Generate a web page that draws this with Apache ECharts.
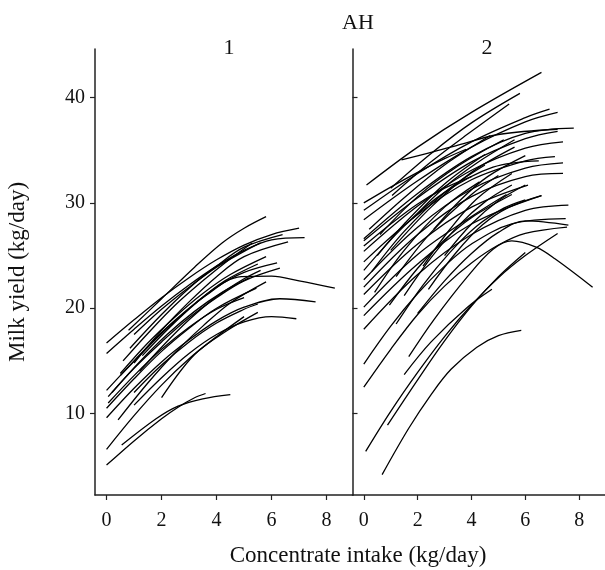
<!DOCTYPE html>
<html>
<head>
<meta charset="utf-8">
<script src="https://cdn.jsdelivr.net/npm/echarts@6/dist/echarts.min.js"></script>
<style>
html,body{margin:0;padding:0;background:#fff;}
#chart{width:605px;height:570px;}
</style>
</head>
<body>
<div id="chart"></div>
<script>
// Tick values
const xTicks = [0, 2, 4, 6, 8];
const yTicks = [10, 20, 30, 40];
const panelLabels = ['1', '2'];
const groupTitle = 'AH';

// Panel 1 curves: [concentrate intake, milk yield]
const panel1Curves = [
  [[0.8,17.9],[2,20.9],[3.2,23.9],[4.2,26.2],[5.0,27.6],[5.8,28.7]],
  [[0,16.7],[1,18.9],[2,21.0],[3,22.9],[4,24.6],[5,26.0],[6,27.0],[7.0,27.6]],
  [[0,15.7],[1,18.0],[2,20.2],[3,22.2],[4,24.0],[5,25.5],[6,26.5],[7.2,26.7]],
  [[0.85,16.2],[2,19.4],[3,21.9],[4,24.0],[5,25.8],[6.4,27.0]],
  [[1.0,14.8],[2,17.9],[3,20.6],[4,23.0],[5,24.9],[6.6,26.3]],
  [[0.6,15.0],[1.5,17.6],[2.5,20.3],[3.5,22.6],[4.5,24.7],[5.3,26.2]],
  [[0,12.2],[1,15.0],[2,17.7],[3,20.0],[4,22.0],[5,23.4],[6.2,24.3]],
  [[0.06,11.6],[1,14.3],[2,16.8],[3,19.1],[4,21.0],[5,22.6],[6.3,23.8]],
  [[0.5,13.6],[1.5,16.3],[2.5,18.8],[3.5,21.0],[4.9,23.0],[6.0,23.05],[7.0,22.6],[8.3,21.9]],
  [[0.42,9.4],[1.5,12.9],[2.5,15.8],[3.5,18.3],[4.5,20.5],[5.8,22.5]],
  [[0,10.5],[1,13.3],[2,15.9],[3,18.1],[4,20.0],[5.45,21.9]],
  [[0,9.6],[1,12.4],[2,14.9],[3,17.0],[4,18.8],[5,20.1],[6.3,20.9],[7.6,20.6]],
  [[2.0,11.5],[3.2,15.6],[4.4,17.9],[5.5,19.6]],
  [[1.0,10.8],[2,13.4],[3,15.7],[4,17.5],[5,18.7],[6.0,19.2],[6.9,19.0]],
  [[0,6.6],[1,9.8],[2,12.7],[3,15.2],[4,17.3],[5.0,19.2]],
  [[0,5.1],[1,7.4],[2,9.5],[2.6,10.6],[3.2,11.5],[3.6,11.9]],
  [[0.55,7.0],[1.8,9.5],[2.6,10.7],[3.5,11.4],[4.5,11.8]],
  [[1.0,17.5],[2,19.9],[3,22.0],[4,23.9],[5,25.4],[5.6,26.2]],
  [[0.5,13.8],[1.5,16.7],[2.5,19.2],[3.5,21.4],[4.5,23.2],[5.8,24.9]],
  [[1.2,14.0],[2,16.3],[3,18.9],[4,21.1],[5,22.8],[5.6,23.6]],
  [[1.0,12.0],[2,14.6],[3,16.8],[4,18.6],[5,19.9],[5.5,20.4]],
  [[0.06,11.0],[1,13.6],[2,16.1],[3,18.2],[4,19.9],[5.0,21.0]],
  [[1.3,15.5],[2.3,18.2],[3.3,20.6],[4.3,22.6],[5.5,24.2]],
  [[0.2,12.0],[1.2,14.9],[2.2,17.5],[3.2,19.7],[4.2,21.5],[5.2,22.9]]
];

// Panel 2 curves: [concentrate intake, milk yield]
const panel2Curves = [
  [[0.1,31.7],[2,35.3],[4,38.6],[6.6,42.4]],
  [[1.0,31.4],[2.5,34.7],[4,37.6],[5.8,40.4]],
  [[1.05,30.7],[2.5,33.9],[4,36.8],[5.4,39.4]],
  [[1.4,34.1],[2.5,34.8],[3.5,35.5],[5,36.5],[7.2,37.0]],
  [[0,29.3],[2,32.8],[4,35.8],[6,38.1],[6.9,38.9]],
  [[0,28.4],[2,32.1],[4,35.3],[6,37.7],[7.2,38.6]],
  [[0,26.6],[2,30.9],[4,34.4],[6,36.6],[7.8,37.1]],
  [[0,26.4],[2,30.5],[4,33.9],[6,36.1],[7.2,36.8]],
  [[0,25.4],[2,29.7],[4,33.1],[6,35.2],[7.4,35.8]],
  [[0,24.4],[2,28.9],[4,32.2],[6,34.0],[7.1,34.4]],
  [[0,22.7],[2,27.7],[4,31.3],[6,33.3],[7.4,33.8]],
  [[0,22.0],[2,27.0],[4,30.6],[6,32.5],[7.4,32.8]],
  [[0,21.3],[2,26.1],[4,29.6],[6.1,31.7]],
  [[0,20.1],[2,25.1],[4,28.7],[5.3,30.8]],
  [[0,19.3],[2,24.2],[4,28.0],[6.6,30.7]],
  [[0,18.0],[2,23.2],[4,27.0],[6,29.3],[7.6,29.8]],
  [[0,14.7],[1,18.3],[2,21.4],[3,24.0],[4,26.1],[5.5,28.0],[7.5,28.5]],
  [[0,12.5],[1,16.1],[2,19.4],[3,22.1],[4,24.3],[5,26.0],[6,27.1],[7.55,27.7]],
  [[1.67,15.4],[2.6,18.9],[3.85,23.0],[4.8,25.6],[5.5,26.4],[6.4,25.8],[7.1,24.7],[8.5,22.0]],
  [[1.5,13.7],[2.5,16.8],[3.85,20.1],[4.76,21.8]],
  [[0.68,4.2],[1.67,8.6],[2.5,11.8],[3.24,14.2],[4.2,16.3],[5.0,17.4],[5.85,17.9]],
  [[0.07,6.4],[1,10.2],[2,13.9],[3,17.3],[4,20.3],[5,22.9],[6,25.0],[7.2,27.1]],
  [[0.88,8.9],[2,13.2],[3,16.9],[4,20.2],[5,23.0],[6,25.3]],
  [[2.0,19.5],[3,22.6],[4,25.2],[5,27.2],[6,28.3],[7.6,27.9]],
  [[0.95,20.3],[2,23.8],[3,26.5],[4,28.6],[5.5,30.8]],
  [[0.3,23.5],[1.5,27.3],[3,31.0],[4.5,33.6]],
  [[0.5,25.0],[1.5,28.0],[3,31.8],[4.5,34.6]],
  [[0.2,27.5],[1.5,30.5],[3,33.6],[4.7,36.4]],
  [[0.6,27.0],[2,30.6],[3.5,33.5],[5.2,36.0]],
  [[1.2,23.0],[2.5,27.2],[4,30.8],[5.0,32.6]],
  [[1.0,25.5],[2.5,29.6],[4,32.9],[5.6,35.3]],
  [[0.4,21.5],[1.5,25.5],[3,29.6],[4.3,32.0]],
  [[1.5,21.2],[2.5,24.8],[3.5,27.8],[4.5,30.1],[5.5,31.7]],
  [[2.2,24.0],[3.2,27.5],[4.2,30.4],[5.5,32.8]],
  [[2.6,27.5],[3.6,30.3],[4.6,32.5],[6.0,34.5]],
  [[0,23.6],[1.5,27.8],[3,31.0],[4.8,33.4],[6.5,34.0]],
  [[1.8,28.5],[3,31.5],[4.2,33.8],[5.6,36.0]],
  [[3.0,25.0],[4,28.0],[5,30.2],[6.0,31.7]],
  [[0,25.9],[1,28.0],[2,29.9],[3,31.4],[4,32.5]],
  [[1.2,18.5],[2.2,22.2],[3.2,25.3],[4.2,27.8],[5.2,29.5],[6.0,30.3]],
  [[2.4,21.8],[3.4,25.2],[4.4,27.9],[5.4,29.6],[6.6,30.7]],
  [[0,30.0],[1,31.5],[2,32.9],[3,34.2],[3.8,35.1]]
];

const FONT = 'Liberation Serif';
const chart = echarts.init(document.getElementById('chart'), null, {renderer: 'canvas'});

function makeX(gridIndex) {
  return {
    type: 'value', gridIndex: gridIndex, min: -0.42, max: 8.96,
    splitLine: {show: false},
    axisLine: {show: true, onZero: false, lineStyle: {color: '#222', width: 1.5}},
    axisTick: {show: true, inside: false, length: 5, customValues: xTicks, lineStyle: {color: '#222', width: 1.2}},
    axisLabel: {show: true, customValues: xTicks, fontFamily: FONT, fontSize: 20, color: '#111', margin: 16}
  };
}
function makeY(gridIndex, showLabels) {
  return {
    type: 'value', gridIndex: gridIndex, min: 2.26, max: 44.62,
    splitLine: {show: false},
    axisLine: {show: true, onZero: false, lineStyle: {color: '#222', width: 1.5}},
    axisTick: {show: true, inside: !showLabels, length: 5, customValues: yTicks, lineStyle: {color: '#222', width: 1.2}},
    axisLabel: {show: showLabels, customValues: yTicks, fontFamily: FONT, fontSize: 20, color: '#111', margin: 10},
    name: showLabels ? 'Milk yield (kg/day)' : '',
    nameLocation: 'middle', nameRotate: 90, nameGap: 66,
    nameTextStyle: {fontFamily: FONT, fontSize: 23, color: '#111'}
  };
}

const series = [];
panel1Curves.forEach(function (c) {
  series.push({type: 'line', xAxisIndex: 0, yAxisIndex: 0, data: c, smooth: 0.35,
    showSymbol: false, silent: true, lineStyle: {color: '#000', width: 1.3}});
});
panel2Curves.forEach(function (c) {
  series.push({type: 'line', xAxisIndex: 1, yAxisIndex: 1, data: c, smooth: 0.35,
    showSymbol: false, silent: true, lineStyle: {color: '#000', width: 1.3}});
});

chart.setOption({
  animation: false,
  backgroundColor: '#fff',
  title: [
    {text: groupTitle, left: 353, top: 7, textAlign: 'center', textStyle: {fontFamily: FONT, fontSize: 22, fontWeight: 'normal', color: '#111'}},
    {text: panelLabels[0], left: 224, top: 32, textAlign: 'center', textStyle: {fontFamily: FONT, fontSize: 22, fontWeight: 'normal', color: '#111'}},
    {text: panelLabels[1], left: 482, top: 32, textAlign: 'center', textStyle: {fontFamily: FONT, fontSize: 22, fontWeight: 'normal', color: '#111'}},
    {text: 'Concentrate intake (kg/day)', left: 353, top: 539, textAlign: 'center', textStyle: {fontFamily: FONT, fontSize: 23, fontWeight: 'normal', color: '#111'}}
  ],
  grid: [
    {left: 95, top: 49, width: 258, height: 446},
    {left: 352.5, top: 49, width: 258, height: 446}
  ],
  xAxis: [makeX(0), makeX(1)],
  yAxis: [makeY(0, true), makeY(1, false)],
  series: series
});
</script>
</body>
</html>
